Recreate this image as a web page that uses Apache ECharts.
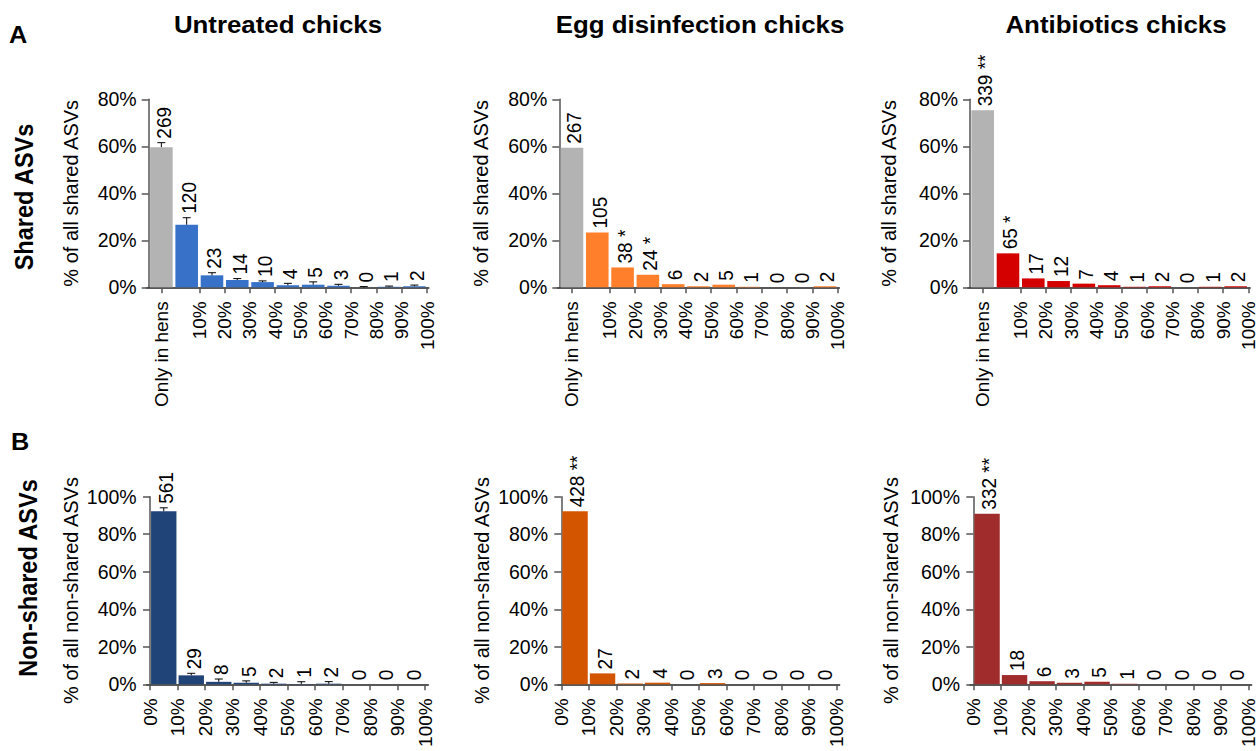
<!DOCTYPE html>
<html>
<head>
<meta charset="utf-8">
<script src="https://cdn.jsdelivr.net/npm/echarts@6/dist/echarts.min.js"></script>
<style>
  html, body { margin: 0; padding: 0; background: #fff; }
  #chart { width: 1258px; height: 751px; }
</style>
</head>
<body>
<div id="chart"></div>
<script>
// ---- data: number of ASVs per prevalence class ----
const groupTitles = ['Untreated chicks', 'Egg disinfection chicks', 'Antibiotics chicks'];
const rowTitles = ['Shared ASVs', 'Non-shared ASVs'];
const panelLetters = ['A', 'B'];

const sharedTicks = ['Only in hens', '10%', '20%', '30%', '40%', '50%', '60%', '70%', '80%', '90%', '100%'];
const nonSharedTicks = ['0%', '10%', '20%', '30%', '40%', '50%', '60%', '70%', '80%', '90%', '100%'];

const untreatedShared = [269, 120, 23, 14, 10, 4, 5, 3, 0, 1, 2];
const eggShared = [267, 105, 38, 24, 6, 2, 5, 1, 0, 0, 2];
const antibioticShared = [339, 65, 17, 12, 7, 4, 1, 2, 0, 1, 2];

const untreatedNonShared = [561, 29, 8, 5, 2, 1, 2, 0, 0, 0];
const eggNonShared = [428, 27, 2, 4, 0, 3, 0, 0, 0, 0];
const antibioticNonShared = [332, 18, 6, 3, 5, 1, 0, 0, 0, 0];

// upper error (percentage points) for the untreated group
const untreatedSharedErr = [1.9, 3.0, 1.1, 0.6, 0.5, 0.8, 1.2, 0.6, 0.3, 0.3, 0.5];
const untreatedNonSharedErr = [1.8, 1.1, 1.5, 1.0, 0.7, 1.2, 1.1, 0, 0, 0];

// significance marks
const eggSharedMarks = ['', '', '*', '*', '', '', '', '', '', '', ''];
const antibioticSharedMarks = ['**', '*', '', '', '', '', '', '', '', '', ''];
const eggNonSharedMarks = ['**', '', '', '', '', '', '', '', '', ''];
const antibioticNonSharedMarks = ['**', '', '', '', '', '', '', '', '', ''];

// ---- layout & style ----
const FONT = '"Liberation Sans", Arial, Helvetica, sans-serif';
const GREY = '#b3b3b3';

const panels = [
  { counts: untreatedShared, err: untreatedSharedErr, marks: null, color: '#3771c8', shared: true, left: 146.7, nameGap: 66 },
  { counts: eggShared, err: null, marks: eggSharedMarks, color: '#ff7f2a', shared: true, left: 557.3, nameGap: 66 },
  { counts: antibioticShared, err: null, marks: antibioticSharedMarks, color: '#d40000', shared: true, left: 968, nameGap: 69 },
  { counts: untreatedNonShared, err: untreatedNonSharedErr, marks: null, color: '#214478', shared: false, left: 146.7, nameGap: 66 },
  { counts: eggNonShared, err: null, marks: eggNonSharedMarks, color: '#d45500', shared: false, left: 558, nameGap: 66 },
  { counts: antibioticNonShared, err: null, marks: antibioticNonSharedMarks, color: '#a02c2c', shared: false, left: 970, nameGap: 69 }
];

const grids = [], xAxes = [], yAxes = [], series = [];

panels.forEach((p, idx) => {
  const total = p.counts.reduce((a, b) => a + b, 0);
  const pct = p.counts.map(c => c / total * 100);
  const ticks = p.shared ? sharedTicks : nonSharedTicks;
  const tickPos = p.shared ? ticks.map((t, i) => (i === 0 ? 0.5 : i + 1)) : ticks.map((t, i) => i);
  const slot = i => i + 0.5;
  const xMin = p.shared ? -0.08 : -0.12;
  const xMax = p.shared ? 11.07 : 10.12;
  const labels = p.counts.map((c, i) => {
    const m = p.marks ? p.marks[i] : '';
    return m ? c + ' ' + m : String(c);
  });

  grids.push({
    left: p.left,
    top: p.shared ? 99.3 : 496.7,
    width: p.shared ? 282.1 : 281.6,
    height: p.shared ? 188 : 187.6,
    containLabel: false,
    outerBoundsMode: 'none'
  });

  xAxes.push({
    type: 'value', gridIndex: idx, position: 'bottom',
    min: xMin, max: xMax,
    axisLine: { show: true, onZero: false, lineStyle: { color: '#222', width: 1.5 } },
    axisTick: { show: true, length: 6, customValues: tickPos, lineStyle: { color: '#555', width: 1.5 } },
    axisLabel: {
      show: true, rotate: 90, margin: 14, fontSize: 19, fontFamily: FONT, color: '#000',
      hideOverlap: false, customValues: tickPos,
      formatter: v => {
        const i = tickPos.findIndex(t => Math.abs(t - v) < 1e-6);
        return i >= 0 ? ticks[i] : '';
      }
    },
    splitLine: { show: false }
  });

  yAxes.push({
    type: 'value', gridIndex: idx,
    min: 0, max: p.shared ? 80 : 100, interval: 20,
    name: p.shared ? '% of all shared ASVs' : '% of all non-shared ASVs',
    nameLocation: 'middle', nameGap: p.nameGap,
    nameTextStyle: { fontSize: 20, fontFamily: FONT, color: '#000' },
    axisLine: { show: true, lineStyle: { color: '#555', width: 1.5 } },
    axisTick: { show: true, length: 7, lineStyle: { color: '#555', width: 1.5 } },
    axisLabel: { fontSize: 19.5, fontFamily: FONT, color: '#000', margin: 10, formatter: '{value}%' },
    splitLine: { show: false }
  });

  series.push({
    type: 'bar', xAxisIndex: idx, yAxisIndex: idx,
    barWidth: p.shared ? 22.6 : 25.4,
    silent: true,
    data: pct.map((v, i) => ({
      value: [slot(i), v],
      itemStyle: { color: (p.shared && i === 0) ? GREY : p.color }
    }))
  });

  // error bars and count labels above each bar
  series.push({
    type: 'custom', xAxisIndex: idx, yAxisIndex: idx, clip: false, z: 5, silent: true,
    data: pct.map((v, i) => [slot(i), v, p.err ? p.err[i] : 0]),
    renderItem: (params, api) => {
      const i = params.dataIndex;
      const x = api.value(0), v = api.value(1), e = api.value(2);
      const base = api.coord([x, v]);
      const tip = api.coord([x, v + e]);
      const kids = [];
      if (p.err && e > 0) {
        kids.push({ type: 'line', shape: { x1: base[0], y1: base[1], x2: tip[0], y2: tip[1] },
          style: { stroke: '#000', lineWidth: 1 } });
        kids.push({ type: 'line', shape: { x1: tip[0] - 4, y1: tip[1], x2: tip[0] + 4, y2: tip[1] },
          style: { stroke: '#000', lineWidth: 1 } });
      }
      kids.push({
        type: 'text', x: tip[0] + 2, y: tip[1] - 4, rotation: Math.PI / 2, scaleY: 1.08,
        style: {
          text: labels[i], fill: '#000', font: '19px ' + FONT,
          align: 'left', verticalAlign: 'middle', textAlign: 'left', textVerticalAlign: 'middle'
        }
      });
      return { type: 'group', children: kids };
    }
  });
});

// headings
const titleX = [278, 700, 1116];
const graphic = [];
groupTitles.forEach((t, i) => {
  graphic.push({ type: 'text', x: titleX[i], y: 25, scaleX: 1.1,
    style: { text: t, fill: '#000', font: 'bold 23.5px ' + FONT,
      align: 'center', verticalAlign: 'middle', textAlign: 'center', textVerticalAlign: 'middle' } });
});
const letterPos = [[18, 35], [20, 441.5]];
panelLetters.forEach((t, i) => {
  graphic.push({ type: 'text', x: letterPos[i][0], y: letterPos[i][1], scaleX: 1.1,
    style: { text: t, fill: '#000', font: 'bold 23px ' + FONT,
      align: 'center', verticalAlign: 'middle', textAlign: 'center', textVerticalAlign: 'middle' } });
});
const rowPos = [[24, 197], [28, 578]];
rowTitles.forEach((t, i) => {
  graphic.push({ type: 'text', x: rowPos[i][0], y: rowPos[i][1], rotation: Math.PI / 2, scaleY: 1.08,
    style: { text: t, fill: '#000', font: 'bold 23.5px ' + FONT,
      align: 'center', verticalAlign: 'middle', textAlign: 'center', textVerticalAlign: 'middle' } });
});

const chart = echarts.init(document.getElementById('chart'), null, { renderer: 'svg' });
chart.setOption({
  animation: false,
  backgroundColor: '#fff',
  textStyle: { fontFamily: FONT },
  grid: grids,
  xAxis: xAxes,
  yAxis: yAxes,
  series: series,
  graphic: graphic
});
</script>
</body>
</html>
